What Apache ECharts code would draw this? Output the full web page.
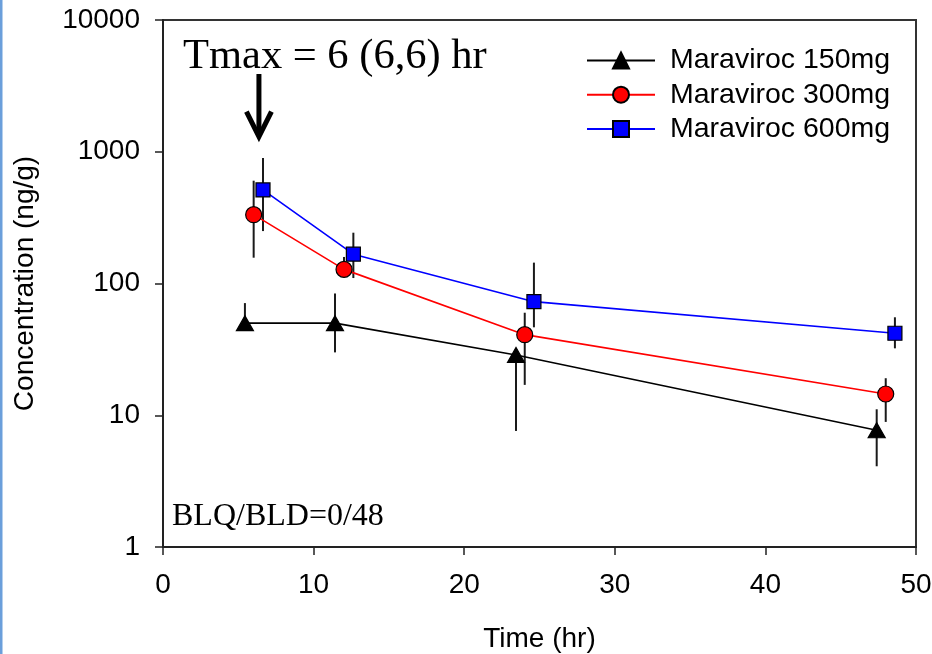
<!DOCTYPE html>
<html>
<head>
<meta charset="utf-8">
<script src="https://cdn.jsdelivr.net/npm/echarts@6/dist/echarts.min.js"></script>
<style>
html,body{margin:0;padding:0;background:#fff;}
#chart{width:932px;height:654px;}
</style>
</head>
<body>
<div id="chart"></div>
<script>
// ---- data ----
const seriesNames = ['Maraviroc 150mg', 'Maraviroc 300mg', 'Maraviroc 600mg'];

const time150 = [5.44, 11.42, 23.44, 47.39];
const conc150 = [50, 50, 28.7, 7.7];
const low150  = [47, 30, 7.6, 4.1];
const high150 = [71, 84, 31, 11.1];

const time300 = [6.02, 12.02, 24.02, 47.99];
const conc300 = [333, 128, 40.9, 14.5];
const low300  = [157, 115, 17, 8.9];
const high300 = [603, 159, 60, 19.1];

const time600 = [6.64, 12.64, 24.63, 48.6];
const conc600 = [513, 167, 72.8, 41.9];
const low600  = [250, 110, 46.5, 32.2];
const high600 = [897, 243, 144, 55.4];

const xTicks = [0, 10, 20, 30, 40, 50];
const yTicks = [1, 10, 100, 1000, 10000];

const tmaxText = 'Tmax = 6 (6,6) hr';
const blqText = 'BLQ/BLD=0/48';
const arrowX = 6.37;
const arrowTop = 3890;
const arrowTip = 1300;

// ---- build ----
const SANS = '"Liberation Sans", Arial, sans-serif';
const SERIF = '"Liberation Serif", "Times New Roman", serif';

function pts(t, c) { return t.map((x, i) => [x, c[i]]); }
function bars(t, lo, hi) { return t.map((x, i) => [x, lo[i], hi[i]]); }

const allBars = [].concat(bars(time150, low150, high150), bars(time300, low300, high300), bars(time600, low600, high600));

const chart = echarts.init(document.getElementById('chart'), null, {renderer: 'canvas'});

const lineSeries = [
  {name: seriesNames[0], color: '#000000', symbol: 'triangle', size: [17, 15], data: pts(time150, conc150), fill: '#000000'},
  {name: seriesNames[1], color: '#ff0000', symbol: 'circle', size: 16, data: pts(time300, conc300), fill: '#ff0000'},
  {name: seriesNames[2], color: '#0000ff', symbol: 'rect', size: 14, data: pts(time600, conc600), fill: '#0000ff'}
].map(s => ({
  name: s.name,
  type: 'line',
  data: s.data,
  symbol: s.symbol,
  symbolSize: s.size,
  showAllSymbol: true,
  z: 5,
  lineStyle: {color: s.color, width: 1.6},
  itemStyle: {color: s.fill, borderColor: '#000', borderWidth: 1.2},
  emphasis: {disabled: true},
  animation: false
}));

const option = {
  animation: false,
  backgroundColor: '#ffffff',
  grid: {left: 163, right: 16, top: 20, bottom: 107, outerBoundsMode: 'none', containLabel: false,
    show: true, borderColor: '#333', borderWidth: 2, backgroundColor: 'transparent'},
  legend: {
    orient: 'vertical',
    left: 581,
    top: 41,
    itemWidth: 68,
    itemHeight: 20,
    itemGap: 5.2,
    data: seriesNames,
    textStyle: {fontFamily: SANS, fontSize: 28.5, color: '#000', padding: [0, 0, 0, 10]}
  },
  xAxis: {
    type: 'value',
    min: 0, max: 50, interval: 10,
    name: 'Time (hr)',
    nameLocation: 'middle',
    nameGap: 78,
    nameTextStyle: {fontFamily: SANS, fontSize: 28, color: '#000'},
    axisLine: {show: true, lineStyle: {color: '#222', width: 2}},
    axisTick: {show: true, length: 8, lineStyle: {color: '#222', width: 1.5}},
    axisLabel: {fontFamily: SANS, fontSize: 28, color: '#000', margin: 24,
      formatter: v => xTicks.indexOf(v) >= 0 ? String(v) : ''},
    splitLine: {show: false}
  },
  yAxis: {
    type: 'log',
    logBase: 10,
    min: 1, max: 10000,
    name: 'Concentration (ng/g)',
    nameLocation: 'middle',
    nameGap: 124,
    nameTextStyle: {fontFamily: SANS, fontSize: 28, color: '#000'},
    axisLine: {show: true, lineStyle: {color: '#222', width: 2}},
    axisTick: {show: true, length: 8, lineStyle: {color: '#222', width: 1.5}},
    axisLabel: {fontFamily: SANS, fontSize: 28, color: '#000', margin: 23,
      formatter: v => yTicks.indexOf(Math.round(v)) >= 0 ? String(Math.round(v)) : ''},
    minorTick: {show: false},
    splitLine: {show: false}
  },
  series: [
    {
      type: 'custom',
      name: 'errorbars',
      data: allBars,
      z: 2,
      silent: true,
      renderItem: function (params, api) {
        const x = api.value(0);
        const p1 = api.coord([x, api.value(1)]);
        const p2 = api.coord([x, api.value(2)]);
        return {
          type: 'line',
          shape: {x1: p1[0], y1: p1[1], x2: p2[0], y2: p2[1]},
          style: {stroke: '#1a1a1a', lineWidth: 2}
        };
      },
      encode: {x: 0, y: [1, 2]}
    }
  ].concat(lineSeries)
};

chart.setOption(option);

// annotations (arrow and texts)
const arrTopPx = chart.convertToPixel({gridIndex: 0}, [arrowX, arrowTop]);
const arrTipPx = chart.convertToPixel({gridIndex: 0}, [arrowX, arrowTip]);
const originPx = chart.convertToPixel({gridIndex: 0}, [0, 1]);
chart.setOption({
  graphic: [
    {type: 'rect', left: 0, top: 0, shape: {x: 0, y: 0, width: 2.5, height: 654}, style: {fill: '#6b9fdb'}, silent: true},
    {type: 'line', shape: {x1: arrTopPx[0], y1: arrTopPx[1], x2: arrTipPx[0], y2: arrTipPx[1] - 2}, style: {stroke: '#000', lineWidth: 5}, silent: true},
    {type: 'polyline', shape: {points: [[arrTipPx[0] - 12.5, arrTipPx[1] - 25], [arrTipPx[0], arrTipPx[1]], [arrTipPx[0] + 12.5, arrTipPx[1] - 25]]}, style: {stroke: '#000', lineWidth: 5, fill: null, lineJoin: 'miter'}, silent: true},
    {type: 'text', x: 183, y: 57, style: {text: tmaxText, font: '42.5px ' + SERIF, fill: '#000', textVerticalAlign: 'middle', textAlign: 'left'}, silent: true},
    {type: 'text', x: originPx[0] + 9, y: 517, style: {text: blqText, font: '32px ' + SERIF, fill: '#000', textVerticalAlign: 'middle', textAlign: 'left'}, silent: true}
  ]
});
</script>
</body>
</html>
